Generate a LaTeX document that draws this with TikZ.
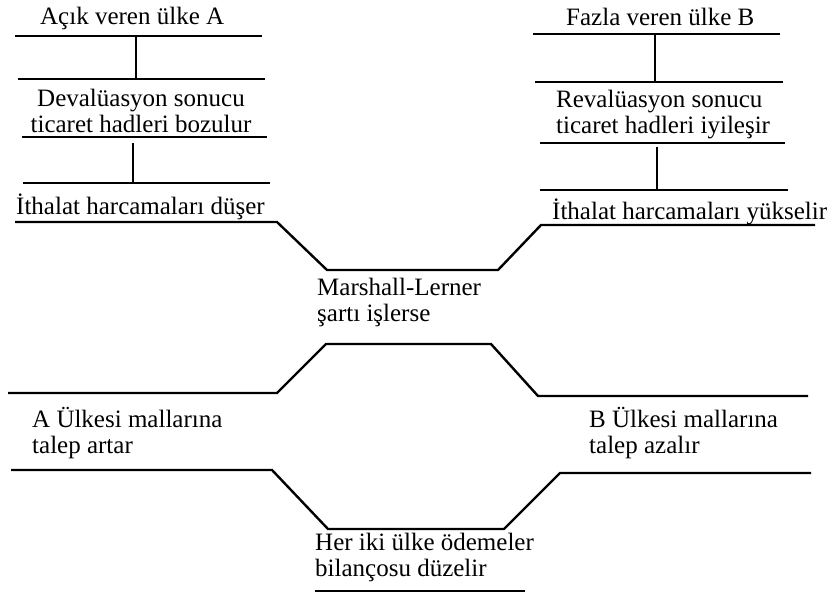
\documentclass[tikz,border=0pt]{standalone}
\usepackage{fontspec}
\setmainfont{Liberation Serif}
\begin{document}
\begin{tikzpicture}[x=1pt,y=-1pt,rule/.style={line width=2.4pt},
    txt/.style={inner sep=0pt,align=left,anchor=west,font=\fontsize{25}{26}\selectfont}]
    \useasboundingbox (0,0) rectangle (836,598);
        \node[txt](aA) at (40,18){Açık veren ülke A};
        \node[txt](bA) at (566,17){Fazla veren ülke B};
        \node[txt,align=center,anchor=center](aD) at (141,111){Devalüasyon sonucu\\ticaret hadleri bozulur};
        \node[txt](bD) at (556,115){Revalüasyon sonucu\\ticaret hadleri iyileşir};
        \node[txt](aI) at (16,207){İthalat harcamaları düşer};
        \node[txt](bI) at (552,212){İthalat harcamaları yükselir};
        \node[txt](ml) at (317,302){Marshall-Lerner\\şartı işlerse};
        \node[txt](aM) at (32,433){A Ülkesi mallarına\\talep artar};
        \node[txt](bM) at (589,433){B Ülkesi mallarına\\talep azalır};
        \node[txt](hb) at (315,557){Her iki ülke ödemeler\\bilançosu düzelir};
        \draw[rule](15,36)--(262,36) (18,79)--(265,79) (22,137)--(267,137) (23,183)--(270,183);
        \draw[rule](533,34)--(780,34) (535,82)--(783,82) (540,143)--(785,143) (540,190)--(788,190);
        \coordinate(a1) at (136,36); \coordinate(a2) at (136,79);
        \coordinate(a3) at (133,143); \coordinate(a4) at (133,183);
        \coordinate(b1) at (655,34); \coordinate(b2) at (655,82);
        \coordinate(b3) at (657,147); \coordinate(b4) at (657,190);
        \draw[rule](a1)--(a2) (a3)--(a4) (b1)--(b2) (b3)--(b4);
        \coordinate(u1) at (277,222); \coordinate(u2) at (327,270);
        \coordinate(u3) at (498,270); \coordinate(u4) at (541,225);
        \draw[rule](15,222)--(u1)--(u2)--(u3)--(u4)--(815,225);
        \coordinate(m1) at (277,393); \coordinate(m2) at (326,344);
        \coordinate(m3) at (491,344); \coordinate(m4) at (538,396);
        \draw[rule](8,393)--(m1)--(m2)--(m3)--(m4)--(808,396);
        \coordinate(d1) at (272,470); \coordinate(d2) at (328,529);
        \coordinate(d3) at (504,529); \coordinate(d4) at (560,473);
        \draw[rule](11,470)--(d1)--(d2)--(d3)--(d4)--(811,473);
        \coordinate(h1) at (315,591); \coordinate(h2) at (525,591);
        \draw[rule](h1)--(h2);
    \end{tikzpicture}
\end{document}
